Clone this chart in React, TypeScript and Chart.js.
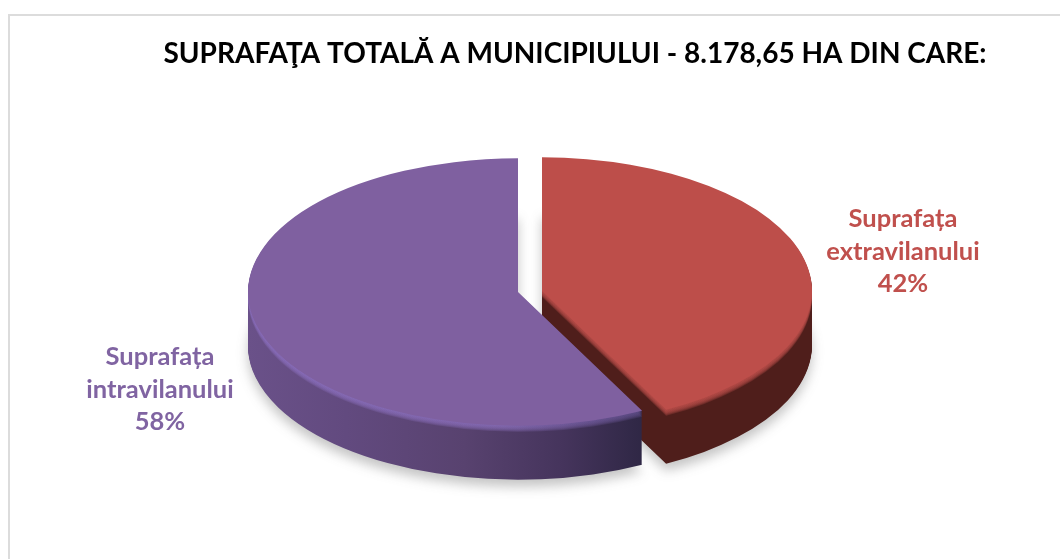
import React, { useEffect, useRef } from "react";
import { Chart, registerables } from "chart.js";

Chart.register(...registerables);

const titleText = "SUPRAFAŢA TOTALĂ A MUNICIPIULUI - 8.178,65 HA DIN CARE:";
const categories = ["Suprafața extravilanului", "Suprafața intravilanului"];
const labelLines = [
  ["Suprafața", "extravilanului", "42%"],
  ["Suprafața", "intravilanului", "58%"],
];
const shares = [42.4, 57.6];
const faceColors = ["#bd4e4a", "#7f60a0"];
const labelColors = ["#c0504d", "#8064a2"];

const FLATTEN = 0.495;
const DEPTH = 54;
const RIM = 6;
const APEX = [
  { x: 542, y: 291 },
  { x: 518, y: 292 },
];
const RADIUS = 270;

function project(ctx: CanvasRenderingContext2D, arc: any, i: number, drop: number) {
  ctx.translate(APEX[i].x - arc.x, APEX[i].y + drop - FLATTEN * arc.y);
  ctx.scale(1, FLATTEN);
}

function paint(arc: any, ctx: CanvasRenderingContext2D, fill: any) {
  const saved = arc.options;
  arc.options = { ...saved, backgroundColor: fill, borderWidth: 0 };
  arc.draw(ctx);
  arc.options = saved;
}

const pie3d = {
  id: "pie3d",
  beforeDraw(chart: any) {
    const { ctx } = chart;
    ctx.save();
    ctx.strokeStyle = "#dcdcdc";
    ctx.lineWidth = 2;
    ctx.beginPath();
    ctx.moveTo(9, chart.height);
    ctx.lineTo(9, 15);
    ctx.lineTo(chart.width, 15);
    ctx.stroke();
    ctx.restore();
  },
  beforeDatasetDraw(chart: any, args: any) {
    const { ctx } = chart;
    const arcs = args.meta.data;
    const cx = arcs[0].x;

    const grad = (i: number, stops: [number, string][]) => {
      const off = APEX[i].x - cx;
      const g = ctx.createLinearGradient(518 - RADIUS - off, 0, 642 - off, 0);
      stops.forEach(([p, c]) => g.addColorStop(p, c));
      return g;
    };
    const sides = [
      grad(0, [[0, "#4f1e1b"], [1, "#4f1e1b"]]),
      grad(1, [[0, "#6a5189"], [0.25, "#624a7f"], [0.55, "#58426f"], [0.8, "#45345c"], [1, "#2f2745"]]),
    ];
    const rims = [
      grad(0, [[0, "#bd4e4a"], [1, "#bd4e4a"]]),
      grad(1, [[0, "#8a6ebd"], [0.65, "#876cb6"], [1, "#5f4d88"]]),
    ];

    ctx.save();
    ctx.filter = "blur(6px)";
    arcs.forEach((arc: any, i: number) => {
      ctx.save();
      project(ctx, arc, i, DEPTH + 7);
      paint(arc, ctx, "rgba(60,60,60,0.3)");
      ctx.restore();
    });
    ctx.restore();

    arcs.forEach((arc: any, i: number) => {
      for (let d = DEPTH; d >= 1; d--) {
        ctx.save();
        project(ctx, arc, i, d);
        paint(arc, ctx, sides[i]);
        ctx.restore();
      }
    });
    arcs.forEach((arc: any, i: number) => {
      for (let d = RIM; d >= 1; d--) {
        ctx.save();
        ctx.globalAlpha = 0.28;
        project(ctx, arc, i, d);
        paint(arc, ctx, rims[i]);
        ctx.restore();
      }
    });
    arcs.forEach((arc: any, i: number) => {
      ctx.save();
      project(ctx, arc, i, 0);
      arc.draw(ctx);
      ctx.restore();
    });
    return false;
  },
  afterDraw(chart: any) {
    const { ctx } = chart;
    const anchors = [
      { x: 903, y: 219 },
      { x: 160, y: 357 },
    ];
    ctx.save();
    ctx.font = "bold 25.5px Lato";
    ctx.textAlign = "center";
    ctx.textBaseline = "middle";
    labelLines.forEach((lines, i) => {
      ctx.fillStyle = labelColors[i];
      lines.forEach((line, j) => ctx.fillText(line, anchors[i].x, anchors[i].y + j * 32.5));
    });
    ctx.restore();
  },
};

export default function App() {
  const ref = useRef<HTMLCanvasElement>(null);
  useEffect(() => {
    const chart = new Chart(ref.current as HTMLCanvasElement, {
      type: "pie",
      data: {
        labels: categories,
        datasets: [
          {
            data: shares,
            backgroundColor: faceColors,
            borderWidth: 0,
            radius: RADIUS,
            clip: false,
          } as any,
        ],
      },
      options: {
        responsive: false,
        animation: false,
        events: [],
        layout: { padding: { left: 90 } },
        plugins: {
          legend: { display: false },
          tooltip: { enabled: false },
          title: {
            display: true,
            text: titleText,
            color: "#000000",
            align: "center",
            font: { family: "Lato", size: 28, weight: "bold" },
            padding: { top: 37, bottom: 10 },
          },
        },
      },
      plugins: [pie3d],
    } as any);
    return () => chart.destroy();
  }, []);
  return (
    <div style={{ position: "fixed", left: 0, top: 0, width: 1060, height: 559, background: "#fff" }}>
      <canvas ref={ref} width={1060} height={559} style={{ display: "block" }} />
    </div>
  );
}
